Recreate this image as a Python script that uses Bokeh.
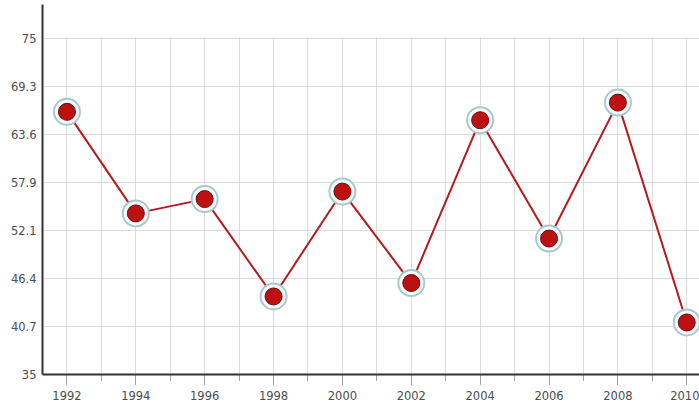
from bokeh.plotting import figure
from bokeh.models import FixedTicker, Range1d, BoxAnnotation
from bokeh.embed import file_html
from bokeh.resources import INLINE

# ---- data ----
years = [1992, 1994, 1996, 1998, 2000, 2002, 2004, 2006, 2008, 2010]
values = [66.3, 54.2, 55.9, 44.3, 56.8, 45.9, 65.3, 51.2, 67.4, 41.2]

x_major_ticks = [1992, 1994, 1996, 1998, 2000, 2002, 2004, 2006, 2008, 2010]
x_minor_ticks = [1993, 1995, 1997, 1999, 2001, 2003, 2005, 2007, 2009]
y_ticks = [35, 40.714, 46.429, 52.143, 57.857, 63.571, 69.286, 75]
y_tick_labels = ["35", "40.7", "46.4", "52.1", "57.9", "63.6", "69.3", "75"]

FONT = "DejaVu Sans"
LABEL_COLOR = "#4d4d4d"

p = figure(width=699, height=406, output_backend="svg", toolbar_location=None,
           x_range=Range1d(1991.29, 2010.37), y_range=Range1d(35, 79.09),
           min_border_left=42, min_border_right=0, min_border_top=4, min_border_bottom=32)
p.outline_line_color = None
p.background_fill_color = "white"

# x axis
p.xaxis.ticker = FixedTicker(ticks=x_major_ticks, minor_ticks=x_minor_ticks)
p.xaxis.axis_line_color = "#333333"
p.xaxis.axis_line_width = 2
p.xaxis.major_tick_in = 0
p.xaxis.major_tick_out = 10
p.xaxis.minor_tick_in = 0
p.xaxis.minor_tick_out = 6
p.xaxis.major_tick_line_color = "#444444"
p.xaxis.minor_tick_line_color = "#444444"
p.xaxis.major_tick_line_dash = "1 1"
p.xaxis.minor_tick_line_dash = "1 1"
p.xaxis.major_label_standoff = 6
p.xaxis.major_label_text_font = FONT
p.xaxis.major_label_text_font_size = "11.5px"
p.xaxis.major_label_text_color = LABEL_COLOR

# y axis
p.yaxis.ticker = FixedTicker(ticks=y_ticks, minor_ticks=[])
p.yaxis.major_label_overrides = {t: l for t, l in zip(y_ticks, y_tick_labels)}
p.yaxis.axis_line_color = "#333333"
p.yaxis.axis_line_width = 2
p.yaxis.major_tick_in = 0
p.yaxis.major_tick_out = 0
p.yaxis.minor_tick_line_color = None
p.yaxis.major_label_standoff = 6
p.yaxis.major_label_text_font = FONT
p.yaxis.major_label_text_font_size = "11.5px"
p.yaxis.major_label_text_color = LABEL_COLOR

# grids
p.xgrid.grid_line_color = "#dcdcdc"
p.xgrid.minor_grid_line_color = "#dcdcdc"
p.ygrid.grid_line_color = "#dcdcdc"

# mask vertical grid lines above the top tick
mask = BoxAnnotation(bottom=y_ticks[-1] + 0.15, fill_color="white", fill_alpha=1.0,
                     line_color=None, level="underlay")
p.add_layout(mask)

# series
p.line(years, values, line_color="#b51a1e", line_width=2)
p.scatter(years, values, size=28, fill_color="#a9c8cb", line_color=None)
p.scatter(years, values, size=24, fill_color="#f7fbfb", line_color=None)
p.scatter(years, values, size=17, fill_color="#bd1011", line_color="#7a0707", line_width=1)

open("out.html", "w").write(file_html(p, INLINE))
